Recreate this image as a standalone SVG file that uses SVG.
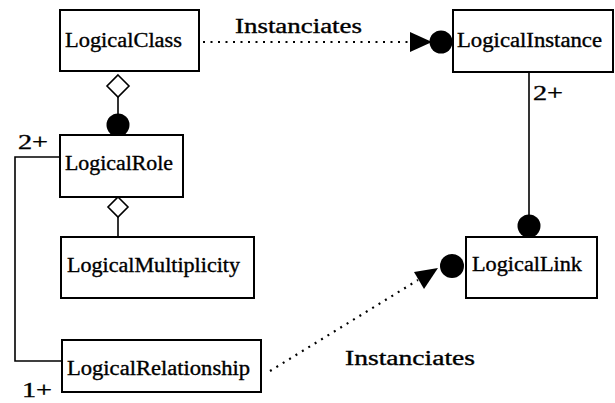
<svg xmlns="http://www.w3.org/2000/svg" width="615" height="403" viewBox="0 0 615 403">
  <style>
    .box { fill: #fff; stroke: #000; stroke-width: 2; }
    .lbl { font-family: "Liberation Serif", "DejaVu Serif", serif; font-size: 20px; fill: #000; stroke: #000; stroke-width: 0.35; }
    .edge { fill: none; stroke: #000; stroke-width: 1.6; }
    .dot { fill: none; stroke: #000; stroke-width: 2.2; stroke-dasharray: 2 5.5; }
    .agg { fill: #fff; stroke: #000; stroke-width: 1.6; }
    .ball { fill: #000; }
  </style>
  <rect width="615" height="403" fill="#fff"/>

  <g id="connectors">
    <!-- LogicalClass to LogicalRole aggregation -->
    <line class="edge" x1="118" y1="97" x2="118" y2="114"/>
    <polygon class="agg" points="118,75 129,86 118,97 107,86"/>
    <circle class="ball" cx="118" cy="125" r="11.5"/>
    <!-- LogicalRole to LogicalMultiplicity aggregation -->
    <line class="edge" x1="118" y1="217" x2="118" y2="237"/>
    <polygon class="agg" points="118,197 128,207 118,217 108,207"/>
    <!-- LogicalRole to LogicalRelationship -->
    <polyline class="edge" points="60,157 15,157 15,361 62,361"/>
    <!-- LogicalInstance to LogicalLink -->
    <line class="edge" x1="529" y1="72" x2="529" y2="215"/>
    <circle class="ball" cx="529" cy="226" r="11.5"/>
    <!-- Instanciates: LogicalClass to LogicalInstance -->
    <line class="dot" x1="203" y1="42" x2="410" y2="42"/>
    <polygon class="ball" points="410,32 432,42 410,52"/>
    <circle class="ball" cx="441" cy="42" r="11.5"/>
    <!-- Instanciates: LogicalRelationship to LogicalLink -->
    <line class="dot" x1="270" y1="371" x2="418" y2="280"/>
    <polygon class="ball" points="414,272 438,268 424,289"/>
    <circle class="ball" cx="452" cy="266" r="12"/>
    <text class="lbl" x="235" y="33" textLength="127" lengthAdjust="spacingAndGlyphs">Instanciates</text>
    <text class="lbl" x="345" y="365" textLength="130" lengthAdjust="spacingAndGlyphs">Instanciates</text>
    <text class="lbl" x="18" y="149" textLength="30" lengthAdjust="spacingAndGlyphs">2+</text>
    <text class="lbl" x="533" y="100" textLength="30" lengthAdjust="spacingAndGlyphs">2+</text>
    <text class="lbl" x="22" y="397" textLength="30" lengthAdjust="spacingAndGlyphs">1+</text>
  </g>

  <g id="LogicalClass">
    <rect class="box" x="60" y="10" width="139" height="61"/>
    <text class="lbl" x="65" y="47" textLength="117" lengthAdjust="spacingAndGlyphs">LogicalClass</text>
  </g>
  <g id="LogicalRole">
    <rect class="box" x="60" y="135" width="123" height="62"/>
    <text class="lbl" x="65" y="170" textLength="108" lengthAdjust="spacingAndGlyphs">LogicalRole</text>
  </g>
  <g id="LogicalMultiplicity">
    <rect class="box" x="61" y="237" width="193" height="61"/>
    <text class="lbl" x="67" y="272" textLength="173" lengthAdjust="spacingAndGlyphs">LogicalMultiplicity</text>
  </g>
  <g id="LogicalRelationship">
    <rect class="box" x="62" y="340" width="199" height="52"/>
    <text class="lbl" x="67" y="375" textLength="183" lengthAdjust="spacingAndGlyphs">LogicalRelationship</text>
  </g>
  <g id="LogicalInstance">
    <rect class="box" x="453" y="10" width="160" height="62"/>
    <text class="lbl" x="457" y="47" textLength="145" lengthAdjust="spacingAndGlyphs">LogicalInstance</text>
  </g>
  <g id="LogicalLink">
    <rect class="box" x="466" y="237" width="131" height="61"/>
    <text class="lbl" x="472" y="271" textLength="110" lengthAdjust="spacingAndGlyphs">LogicalLink</text>
  </g>
</svg>
